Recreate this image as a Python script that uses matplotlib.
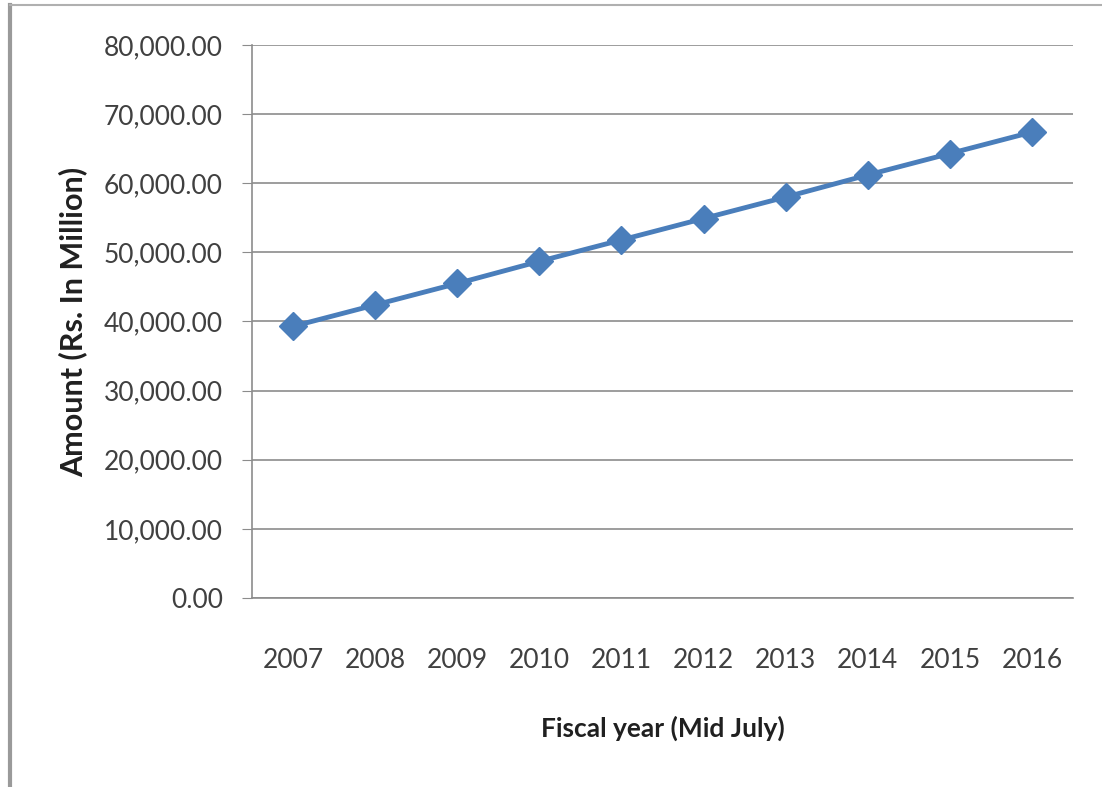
import matplotlib.pyplot as plt
from matplotlib.lines import Line2D
from matplotlib.ticker import FuncFormatter

# Data
years = ['2007', '2008', '2009', '2010', '2011', '2012', '2013', '2014', '2015', '2016']
amount = [39300, 42400, 45500, 48700, 51800, 54900, 58000, 61200, 64300, 67400]
y_ticks = [0, 10000, 20000, 30000, 40000, 50000, 60000, 70000, 80000]

plt.rcParams['font.family'] = ['Lato', 'DejaVu Sans']

fig = plt.figure(figsize=(11.02, 7.87), dpi=100)
ax = fig.add_axes([0.2287, 0.2402, 0.745, 0.7026])

x = list(range(len(years)))
ax.plot(x, amount, color='#4a7ebb', linewidth=3.5, marker='D', markersize=14,
        markeredgecolor='#4a7ebb', zorder=3)

ax.set_xlim(-0.5, len(years) - 0.5)
ax.set_ylim(0, 80000)
ax.set_yticks(y_ticks)
ax.yaxis.set_major_formatter(FuncFormatter(lambda v, p: f'{v:,.2f}'))
ax.set_xticks(x)
ax.set_xticklabels(years)

ax.grid(axis='y', color='#8c8c8c', linewidth=1.2)
ax.set_axisbelow(True)
for s in ['top', 'right']:
    ax.spines[s].set_visible(False)
ax.spines['left'].set_color('#8c8c8c')
ax.spines['bottom'].set_color('#8c8c8c')
ax.spines['left'].set_linewidth(1.2)
ax.spines['bottom'].set_linewidth(1.2)

ax.tick_params(axis='y', length=7, color='#8c8c8c', labelsize=19,
               labelcolor='#404040', pad=14)
ax.tick_params(axis='x', length=0, labelsize=19, labelcolor='#404040', pad=36)

ax.set_ylabel('Amount (Rs. In Million)', fontsize=22, fontweight='bold',
              color='#202020', labelpad=12)
ax.set_xlabel('Fiscal year (Mid July)', fontsize=19, fontweight='bold',
              color='#202020', labelpad=31)

# outer frame lines (left and top) like the source image
fig.add_artist(Line2D([0.0091, 0.0091], [0, 0.9936], transform=fig.transFigure,
                      color='#9a9a9a', linewidth=3))
fig.add_artist(Line2D([0.0091, 0.999], [0.9936, 0.9936], transform=fig.transFigure,
                      color='#b0b0b0', linewidth=1.5))

fig.savefig('out.png', dpi=100)
